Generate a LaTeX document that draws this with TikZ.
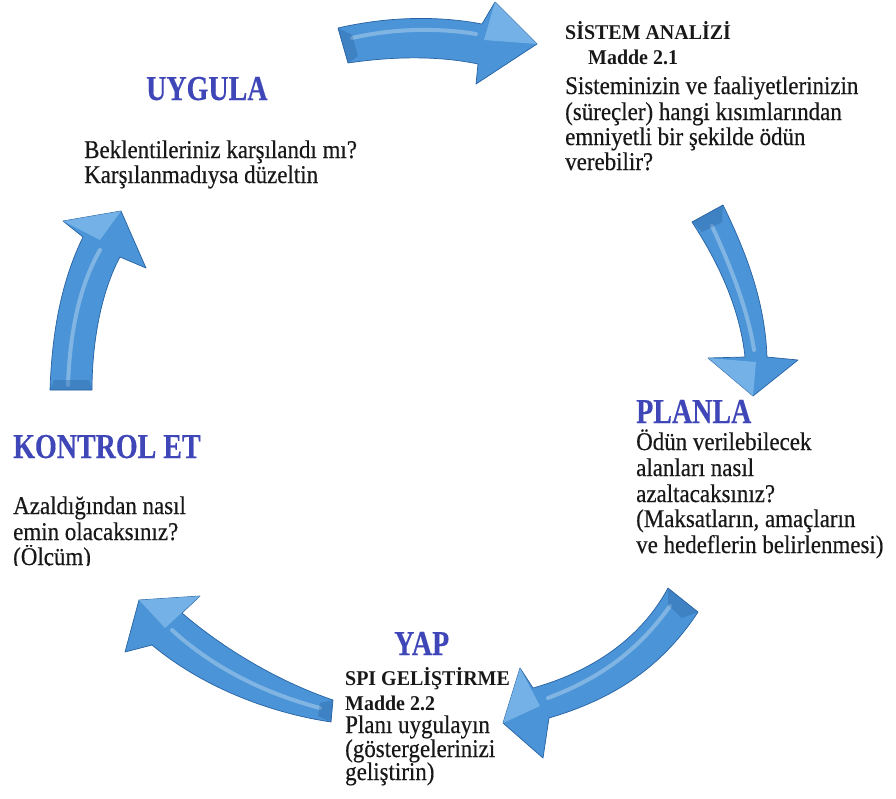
\documentclass[tikz,border=0pt]{standalone}
\usepackage{fontspec}
\setmainfont{Liberation Serif}
\newfontfamily\bodyfont[FakeStretch=0.9,FakeBold=0.4]{Liberation Serif}
\newfontfamily\headfont[FakeStretch=0.95]{Liberation Serif}
\newfontfamily\titlefont[FakeStretch=0.8,FakeBold=0.3]{Liberation Serif}
\definecolor{titleblue}{RGB}{63,70,184}
\definecolor{ink}{RGB}{24,24,24}
\definecolor{arrowblue}{RGB}{74,148,215}
\definecolor{arrowlight}{RGB}{138,194,240}
\definecolor{arrowdark}{RGB}{40,98,162}
\begin{document}
\begin{tikzpicture}[x=1pt,y=-1pt,
  title/.style={anchor=base west, inner sep=0pt, text=titleblue, font=\titlefont\fontsize{35}{36}\selectfont\bfseries},
  subhead/.style={anchor=base west, inner sep=0pt, text=ink, font=\headfont\fontsize{21}{24}\selectfont\bfseries},
  body/.style={anchor=base west, inner sep=0pt, text=ink, font=\bodyfont\fontsize{25.5}{27}\selectfont},
  arrowbody/.style={fill=arrowblue, draw=arrowdark, line width=0.7pt, line join=round},
  facet/.style={fill=arrowlight, opacity=0.65},
  endface/.style={fill=arrowdark, opacity=0.35},
  shine/.style={draw=white, opacity=0.3, line width=4pt, line cap=round}]
\useasboundingbox (0,0) rectangle (896,798);
\fill[white] (0,0) rectangle (896,798);

% ---- cycle arrows ----
% top: towards the system analysis
\path[arrowbody] (338,28) .. controls (390,16) and (440,16) .. (482,24) -- (495,2) -- (537,44) -- (476,84) -- (478,64) .. controls (440,56) and (395,56) .. (348,63) -- cycle;
\fill[facet] (495,2) -- (537,44) -- (484,40) -- cycle;
\draw[shine] (352,38) .. controls (395,28) and (440,28) .. (476,34);
\fill[endface] (338,28) -- (348,63) -- (358,56) -- (352,35) -- cycle;

% right: down to the plan
\path[arrowbody] (692,222) -- (723,205) .. controls (745,250) and (765,300) .. (767,357) -- (798,360) -- (753,396) -- (708,358) -- (745,357) .. controls (740,310) and (720,265) .. (692,222) -- cycle;
\fill[facet] (708,358) -- (753,396) -- (756,362) -- cycle;
\draw[shine] (712,226) .. controls (730,265) and (748,310) .. (754,350);
\fill[endface] (692,222) -- (723,205) -- (722,222) -- (702,232) -- cycle;

% lower right: to the implementation
\path[arrowbody] (668,588) -- (698,612) .. controls (660,670) and (610,700) .. (549,718) -- (543,758) -- (503,723) -- (520,668) -- (533,688) .. controls (590,672) and (640,640) .. (668,588) -- cycle;
\fill[facet] (520,668) -- (503,723) -- (540,706) -- cycle;
\draw[shine] (670,606) .. controls (635,655) and (595,680) .. (548,698);
\fill[endface] (668,588) -- (698,612) -- (682,618) -- (668,605) -- cycle;

% lower left: to the check
\path[arrowbody] (333,700) -- (331,722) .. controls (265,712) and (200,685) .. (152,645) -- (125,652) -- (139,600) -- (200,596) -- (182,613) .. controls (225,650) and (280,682) .. (333,700) -- cycle;
\fill[facet] (139,600) -- (200,596) -- (165,628) -- cycle;
\draw[shine] (320,708) .. controls (260,692) and (210,665) .. (172,630);
\fill[endface] (333,700) -- (331,722) -- (318,716) -- (320,703) -- cycle;

% left: up to the action
\path[arrowbody] (50,390) .. controls (52,330) and (62,280) .. (83,237) -- (63,221) -- (121,211) -- (146,268) -- (120,257) .. controls (102,290) and (92,340) .. (92,390) -- cycle;
\fill[facet] (63,221) -- (121,211) -- (100,240) -- cycle;
\draw[shine] (68,385) .. controls (70,330) and (80,285) .. (100,250);
\fill[endface] (50,390) -- (92,390) -- (89,380) -- (54,380) -- cycle;

% ---- texts ----
\node[title] (uygula) at (146,100) {UYGULA};
\node[body] (uy1) at (84,158) {Beklentileriniz karşılandı mı?};
\node[body] (uy2) at (84,183) {Karşılanmadıysa düzeltin};

\node[subhead] (sa) at (565,39) {SİSTEM ANALİZİ};
\node[subhead] (sa1) at (588,64) {Madde 2.1};
\node[body] (sa2) at (565,94) {Sisteminizin ve faaliyetlerinizin};
\node[body] (sa3) at (565,120) {(süreçler) hangi kısımlarından};
\node[body] (sa4) at (565,145) {emniyetli bir şekilde ödün};
\node[body] (sa5) at (565,170) {verebilir?};

\node[title] (planla) at (636,423) {PLANLA};
\node[body] (pl1) at (636,450) {Ödün verilebilecek};
\node[body] (pl2) at (636,476) {alanları nasıl};
\node[body] (pl3) at (636,502) {azaltacaksınız?};
\node[body] (pl4) at (636,527) {(Maksatların, amaçların};
\node[body] (pl5) at (636,553) {ve hedeflerin belirlenmesi)};

\node[title] (kontrol) at (13,458) {KONTROL ET};
\node[body] (ko1) at (13,514) {Azaldığından nasıl};
\node[body] (ko2) at (13,540) {emin olacaksınız?};
\begin{scope}
  \clip (0,545) rectangle (300,565.5);
  \node[body] (ko3) at (13,565) {(Ölçüm)};
\end{scope}

\node[title] (yap) at (394,655) {YAP};
\node[subhead] (ya1) at (345,685) {SPI GELİŞTİRME};
\node[subhead] (ya2) at (345,710) {Madde 2.2};
\node[body] (ya3) at (345,733) {Planı uygulayın};
\node[body] (ya4) at (345,757) {(göstergelerinizi};
\node[body] (ya5) at (345,780) {geliştirin)};
\end{tikzpicture}
\end{document}
